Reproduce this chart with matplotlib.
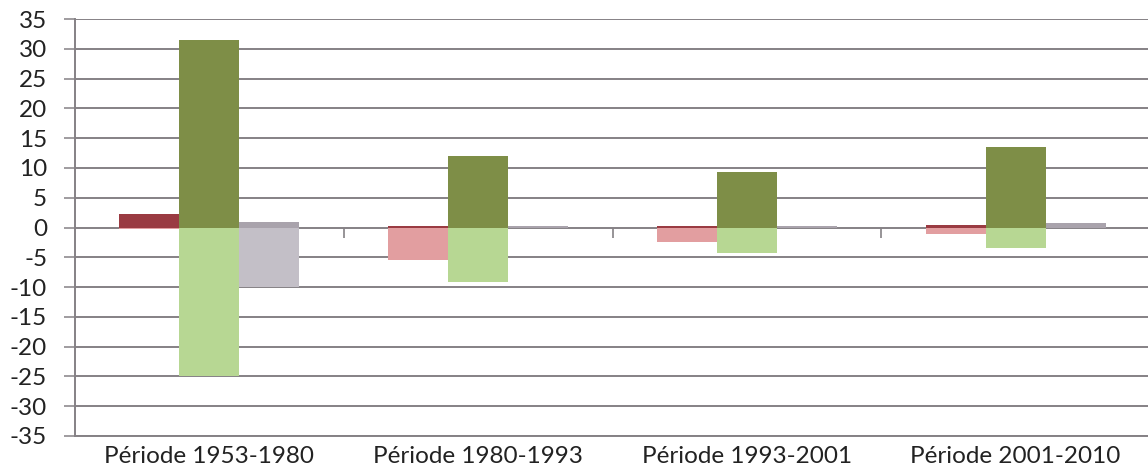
import matplotlib
matplotlib.use("Agg")
import matplotlib.pyplot as plt
import numpy as np

categories = ["Période 1953-1980", "Période 1980-1993", "Période 1993-2001", "Période 2001-2010"]
red_pos = [2.3, 0.2, 0.3, 0.5]
red_neg = [-0.3, -5.4, -2.5, -1.1]
green_pos = [31.5, 12.0, 9.4, 13.5]
green_neg = [-24.9, -9.1, -4.3, -3.5]
gray_pos = [0.9, 0.3, 0.2, 0.8]
gray_neg = [-10.0, 0.0, 0.0, 0.0]
yticks = list(range(-35, 36, 5))

plt.rcParams['font.family'] = ['Lato', 'DejaVu Sans']

fig = plt.figure(figsize=(11.48, 4.70), dpi=100)
ax = fig.add_axes([75/1148, 34/470, (1150-75)/1148, 417/470])

x = np.arange(len(categories))
w = 0.223
series = [
    (red_pos, red_neg, "#9a3b42", "#e29ea0", -w),
    (green_pos, green_neg, "#7e8e47", "#b7d793", 0.0),
    (gray_pos, gray_neg, "#a9a3ac", "#c3bfc7", w),
]
for pos, neg, cpos, cneg, off in series:
    ax.bar(x + off, pos, width=w, color=cpos, zorder=3, linewidth=0)
    ax.bar(x + off, neg, width=w, color=cneg, zorder=3, linewidth=0)

ax.set_xlim(-0.5, len(categories) - 0.5)
ax.set_ylim(-35, 35)
ax.set_yticks(yticks)
ax.set_yticklabels([str(t) for t in yticks], fontsize=17.5, color="#222222")
ax.yaxis.grid(True, color="#858185", linewidth=1.4, zorder=1)
ax.set_axisbelow(True)
ax.tick_params(axis='y', direction='out', length=8, width=1.1, color="#858185", pad=12)

ax.set_xticks(x)
ax.set_xticklabels(categories, fontsize=17.5, color="#222222")
ax.tick_params(axis='x', length=0, pad=7)

for s in ["top", "right"]:
    ax.spines[s].set_visible(False)
ax.spines["left"].set_color("#858185")
ax.spines["left"].set_linewidth(1.4)
ax.spines["bottom"].set_color("#858185")
ax.spines["bottom"].set_linewidth(1.4)

# category boundary ticks on the zero axis
bounds = np.arange(len(categories) - 1) + 0.5
ax.vlines(bounds, -1.7, 0, color="#858185", linewidth=1.2, zorder=2)

fig.savefig("out.png", dpi=100)
